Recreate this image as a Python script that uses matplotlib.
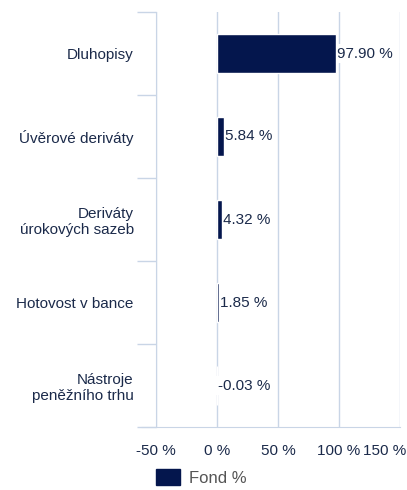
import numpy as np
import matplotlib.pyplot as plt

# Data
categories = ['Dluhopisy', 'Úvěrové deriváty', 'Deriváty\núrokových sazeb',
              'Hotovost v bance', 'Nástroje\npeněžního trhu']
values = [97.90, 5.84, 4.32, 1.85, -0.03]
xticks = [-50, 0, 50, 100, 150]
xtick_labels = ['-50 %', '0 %', '50 %', '100 %', '150 %']
series_name = 'Fond %'

navy = '#04164d'
text_col = '#1b2a4a'
grid_col = '#c9d5e6'

plt.rcParams['font.family'] = ['Liberation Sans', 'DejaVu Sans']

fig = plt.figure(figsize=(4.07, 4.90), dpi=100)
ax = fig.add_axes([156 / 407, 1 - 427 / 490, 244 / 407, 415 / 490])

y = np.arange(len(categories))
bars = ax.barh(y, values, height=0.46, color=navy, edgecolor='white',
               linewidth=1.0, label=series_name, zorder=4)

# value labels with white background (drawn under the bars)
for yi, v in zip(y, values):
    ax.annotate(f'{v:.2f} %', xy=(v, yi), xytext=(1, 0), textcoords='offset pixels',
                va='center', ha='left', fontsize=11, color=text_col, zorder=3,
                bbox=dict(facecolor='white', edgecolor='none', pad=2))

ax.set_xlim(-50, 150)
ax.set_ylim(len(categories) - 0.5, -0.5)
ax.set_xticks(xticks)
# last tick label is drawn by hand so it can be squeezed inside the figure
ax.set_xticklabels(xtick_labels[:-1] + [''], fontsize=11, color=text_col)
ax.annotate(xtick_labels[-1], xy=(xticks[-1], 0), xycoords=ax.get_xaxis_transform(),
            xytext=(6, -17), textcoords='offset pixels', ha='right', va='top',
            fontsize=11, color=text_col, annotation_clip=False)

ax.set_yticks(np.arange(len(categories) + 1) - 0.5)
ax.set_yticklabels([])
ax.set_yticks(y, minor=True)
ax.set_yticklabels(categories, minor=True, fontsize=11, color=text_col, ha='right')
ax.tick_params(axis='y', which='major', length=14, color=grid_col, width=1)
ax.tick_params(axis='y', which='minor', length=0, pad=16)
ax.tick_params(axis='x', length=0, pad=12)

ax.grid(axis='x', color=grid_col, linewidth=1, zorder=0)
ax.set_axisbelow(True)
for s in ['top', 'right']:
    ax.spines[s].set_visible(False)
ax.spines['left'].set_color(grid_col)
ax.spines['bottom'].set_color(grid_col)
ax.spines['bottom'].set_bounds(-50 - 14 * 200 / 244, 150)

leg = fig.legend(handles=[bars], labels=[series_name], loc='lower left',
                 bbox_to_anchor=(141 / 407, -11 / 490), frameon=False, fontsize=12,
                 handlelength=1.45, handleheight=1.1, handletextpad=0.55)
for t in leg.get_texts():
    t.set_color('#555555')
for h in leg.legend_handles:
    h.set_edgecolor(navy)

fig.savefig('out.png', dpi=100)
